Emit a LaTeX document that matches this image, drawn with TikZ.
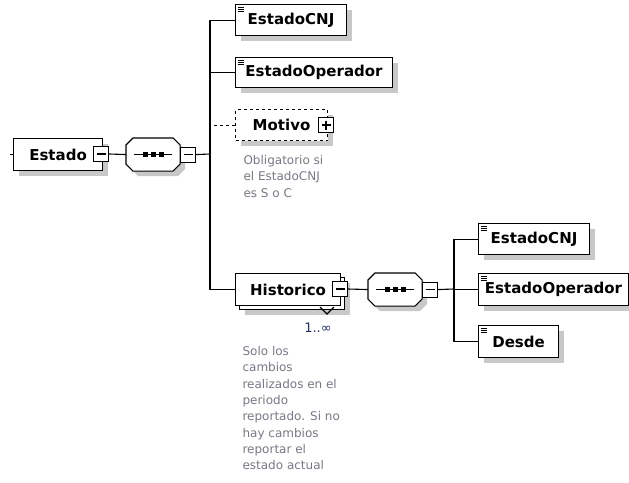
\documentclass[tikz,border=0pt]{standalone}
\usepackage{fontspec}
\setmainfont{DejaVu Sans}
\usetikzlibrary{positioning, shadows}

\definecolor{notegray}{RGB}{120,120,132}
\definecolor{shadegray}{RGB}{200,200,200}
\definecolor{occblue}{RGB}{35,45,95}

\tikzset{
  shade/.style={drop shadow={shadow xshift=5pt, shadow yshift=-5pt, fill=shadegray, opacity=1}},
  elem/.style={draw, fill=white, line width=1.1pt, inner sep=0pt, anchor=north west,
    minimum height=31pt, font=\bfseries\fontsize{15}{18}\selectfont},
  elemicon/.style={elem, shade,
    path picture={
      \foreach \k in {3,5,7}
        \draw[line width=0.7pt] ([xshift=2pt,yshift=-\k pt]path picture bounding box.north west) -- ++(6,0);
    }},
  minusbox/.style={draw, fill=white, line width=1.1pt, minimum size=15pt, inner sep=0pt,
    path picture={\draw ([xshift=3pt]path picture bounding box.west) -- ([xshift=-3pt]path picture bounding box.east);}},
  plusbox/.style={draw, fill=white, line width=1.1pt, minimum size=15pt, inner sep=0pt,
    path picture={
      \draw ([xshift=3pt]path picture bounding box.west) -- ([xshift=-3pt]path picture bounding box.east);
      \draw ([yshift=-3pt]path picture bounding box.north) -- ([yshift=3pt]path picture bounding box.south);
    }},
  seqbox/.style={rectangle, minimum width=53pt, minimum height=32pt, inner sep=0pt, anchor=north west},
  note/.style={font=\fontsize{12}{16.3}\selectfont, text=notegray, align=left, inner sep=0pt, anchor=north west}
}

% octagon of a sequence, with its dots
\newcommand{\seqshape}[1]{%
  \draw[fill=white, shade] ([xshift=7pt]#1.north west) -- ([xshift=-7pt]#1.north east)
    -- ([yshift=-7pt]#1.north east) -- ([yshift=7pt]#1.south east)
    -- ([xshift=-7pt]#1.south east) -- ([xshift=7pt]#1.south west)
    -- ([yshift=7pt]#1.south west) -- ([yshift=-7pt]#1.north west) -- cycle;
  \draw ([xshift=-19pt]#1.center) -- ([xshift=19pt]#1.center);
  \foreach \d in {-8,0,8}
    \fill ([xshift=\d pt]#1.center) +(-2.5,-2.5) rectangle +(2.5,2.5);
}

\begin{document}
\begin{tikzpicture}[x=1pt, y=-1pt, line width=1.1pt]
  \useasboundingbox (0,0) rectangle (629,482);

  % Estado
  \node[elem, shade, minimum width=89pt, minimum height=32pt] (estado) at (13,138) {Estado};
  \node[minusbox] (estadoT) at (101,154) {};
  \draw (estado.west) -- ++(-3,0);

  % sequence of Estado
  \node[seqbox] (seqA) at (126,138) {};
  \seqshape{seqA}
  \node[minusbox, anchor=west] (seqAT) at (seqA.east) {};
  \draw (estadoT.east) -- (seqA.west);
  \coordinate (busA) at (210,154);
  \draw (seqAT.east) -- (busA);

  % children of Estado
  \node[elemicon, minimum width=111pt] (cnjA) at (235,4) {EstadoCNJ};
  \node[elemicon, minimum width=157pt, minimum height=30pt] (operA) at (235,57) {EstadoOperador};
  \node[elem, shade, dashed, minimum width=92pt] (motivo) at (235,109) {Motivo};
  \node[plusbox] (motivoT) at (326,125) {};
  \node[elem, minimum width=105pt, minimum height=32pt,
    drop shadow={shadow xshift=9pt, shadow yshift=-9pt, fill=shadegray, opacity=1},
    copy shadow={shadow xshift=4pt, shadow yshift=-4pt}] (hist) at (235,273) {Historico};
  \node[minusbox] (histT) at (340,289) {};
  \draw (320,307) -- (327,314) -- (334,307);
  \node[font=\fontsize{13}{15}\selectfont, text=occblue] (histOcc) at (318,328) {1..∞};

  \draw (cnjA.west) -| (busA) |- (hist.west);
  \draw (operA.west) -- (operA.west -| busA);
  \draw[dashed] (motivo.west) -- (motivo.west -| busA);

  % notes
  \node[note] (motivoNote) at (243,155) {Obligatorio si\\el EstadoCNJ\\es S o C};
  \node[note] (histNote) at (242,346) {Solo los\\cambios\\realizados en el\\periodo\\reportado. Si no\\hay cambios\\reportar el\\estado actual};

  % sequence of Historico
  \node[seqbox] (seqB) at (368,273) {};
  \seqshape{seqB}
  \node[minusbox, anchor=west] (seqBT) at (seqB.east) {};
  \draw (histT.east) -- (seqB.west);
  \coordinate (busB) at (454,289);
  \draw (seqBT.east) -- (busB);

  % children of Historico
  \node[elemicon, minimum width=111pt] (cnjB) at (478,223) {EstadoCNJ};
  \node[elemicon, minimum width=150pt, minimum height=32pt] (operB) at (478,273) {EstadoOperador};
  \node[elemicon, minimum width=80pt, minimum height=32pt] (desde) at (478,325) {Desde};

  \draw (cnjB.west) -| (busB) |- (desde.west);
  \draw (operB.west) -- (operB.west -| busB);
\end{tikzpicture}
\end{document}
